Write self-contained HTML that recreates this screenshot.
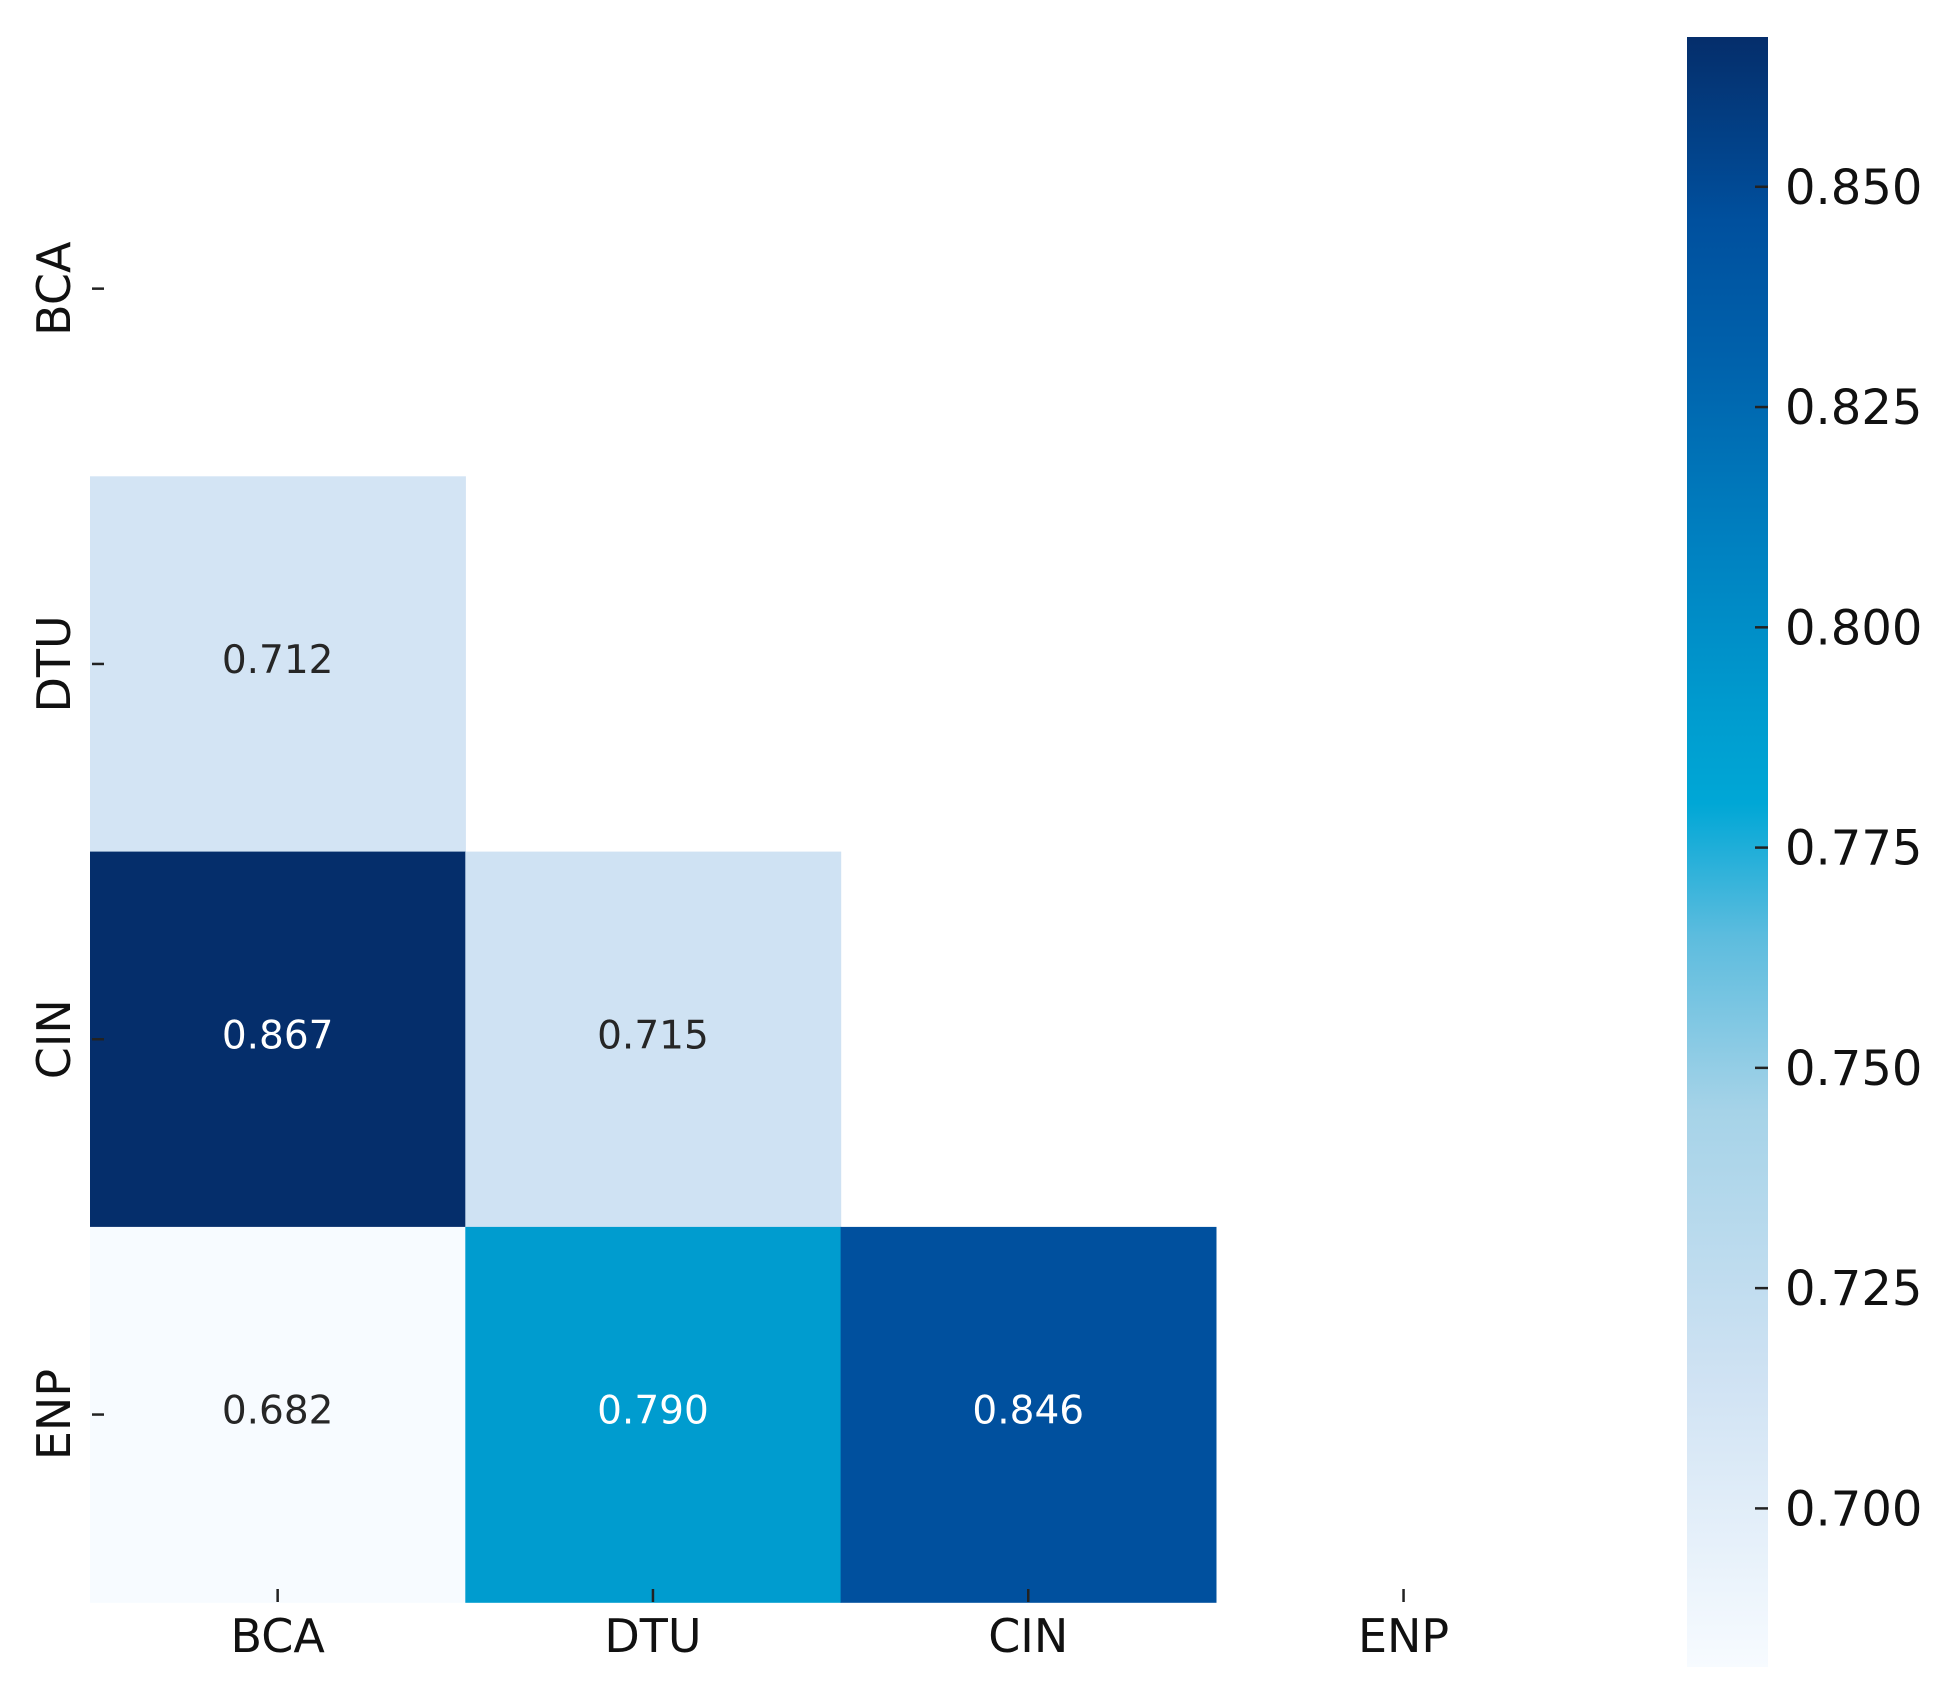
<!DOCTYPE html>
<html><head><meta charset="utf-8"><style>
html,body{margin:0;padding:0;background:#fff;}
svg{display:block;font-family:"DejaVu Sans","Liberation Sans",sans-serif;}
</style></head><body>
<svg id="chart" width="1950" height="1706" viewBox="0 0 1950 1706">
<defs>
<linearGradient id="cbgrad" x1="0" y1="1" x2="0" y2="0"></linearGradient>
</defs>
<g id="cells"></g>
<g id="axes"></g>
<g id="cbar"></g>
</svg>
<script>
const categories = ["BCA", "DTU", "CIN", "ENP"];
const rowIdx = [1, 2, 2, 3, 3, 3];
const colIdx = [0, 0, 1, 0, 1, 2];
const cellValues = [0.712, 0.867, 0.715, 0.682, 0.790, 0.846];
const cbTicks = [0.700, 0.725, 0.750, 0.775, 0.800, 0.825, 0.850];
const cbTickLabels = ["0.700", "0.725", "0.750", "0.775", "0.800", "0.825", "0.850"];
const vmin = 0.682, vmax = 0.867;
const cmapStops = [[0.682,"#f7fbff"],[0.715,"#cfe2f3"],[0.745,"#a6d3e8"],[0.765,"#5cbcde"],[0.78,"#00a7d6"],[0.79,"#009ccf"],[0.81,"#0080c0"],[0.83,"#0062ac"],[0.846,"#00509e"],[0.867,"#052e6b"]];

const NS = "http://www.w3.org/2000/svg";
const hmLeft = 90, hmTop = 101, cellSize = 375.3;
const cbX = 1687, cbW = 81, cbTop = 37, cbBot = 1667;
function xPos(i){ return hmLeft + i*cellSize; }
function yPos(i){ return hmTop + i*cellSize; }
function cbY(v){ return cbBot - (v - vmin)/(vmax - vmin)*(cbBot - cbTop); }
function hexToRgb(h){ return [1,3,5].map(k=>parseInt(h.substr(k,2),16)); }
function colorFor(v){
  for(let i=0;i<cmapStops.length-1;i++){
    const a=cmapStops[i][0], ca=cmapStops[i][1], b=cmapStops[i+1][0], cb=cmapStops[i+1][1];
    if(v<=b || i===cmapStops.length-2){
      const t=Math.max(0,Math.min(1,(v-a)/(b-a)));
      const A=hexToRgb(ca),B=hexToRgb(cb);
      return "rgb("+A.map((x,k)=>Math.round(x+(B[k]-x)*t)).join(",")+")";
    }
  }
}
function mk(tag, attrs, parent){
  const e=document.createElementNS(NS,tag);
  for(const k in attrs) e.setAttribute(k,attrs[k]);
  parent.appendChild(e); return e;
}
const gCells=document.getElementById("cells");
cellValues.forEach((v,i)=>{
  const x=xPos(colIdx[i]), y=yPos(rowIdx[i]);
  const r=mk("rect",{x:x,y:y,width:cellSize+0.6,height:cellSize+0.6,fill:colorFor(v)},gCells);
  
  
  const t=mk("text",{x:x+cellSize/2,y:y+cellSize/2+9,"text-anchor":"middle","font-size":"39",fill:(v>0.77?"#ffffff":"#262626")},gCells);
  t.textContent=v.toFixed(3);
  
  
});
const gAx=document.getElementById("axes");
categories.forEach((c,i)=>{
  const cx=xPos(i)+cellSize/2, cy=yPos(i)+cellSize/2;
  const tx=mk("line",{x1:cx,x2:cx,y1:1589,y2:1602,stroke:"#222","stroke-width":"2.5"},gAx);
  
  
  const lx=mk("text",{x:cx,y:1652,"text-anchor":"middle","font-size":"46",fill:"#111"},gAx);
  lx.textContent=c;
  
  
  const ty=mk("line",{x1:92,x2:104,y1:cy,y2:cy,stroke:"#222","stroke-width":"2.5"},gAx);
  
  
  const ly=mk("text",{x:0,y:0,"text-anchor":"middle","font-size":"46",fill:"#111",transform:"translate(70,"+cy+") rotate(-90)"},gAx);
  ly.textContent=c;
  
  
});
const grad=document.getElementById("cbgrad");
cmapStops.forEach(s=>{
  mk("stop",{offset:((s[0]-vmin)/(vmax-vmin)*100)+"%","stop-color":s[1]},grad);
});
const gCb=document.getElementById("cbar");
const bar=mk("rect",{x:cbX,y:cbTop,width:cbW,height:cbBot-cbTop,fill:"url(#cbgrad)"},gCb);


cbTicks.forEach((v,i)=>{
  const y=cbY(v);
  const l=mk("line",{x1:cbX+cbW-13,x2:cbX+cbW,y1:y,y2:y,stroke:"#222","stroke-width":"2.5"},gCb);
  
  
  const t=mk("text",{x:1785,y:y+17,"font-size":"48",fill:"#111"},gCb);
  t.textContent=cbTickLabels[i];
  
  
});
</script>
</body></html>
